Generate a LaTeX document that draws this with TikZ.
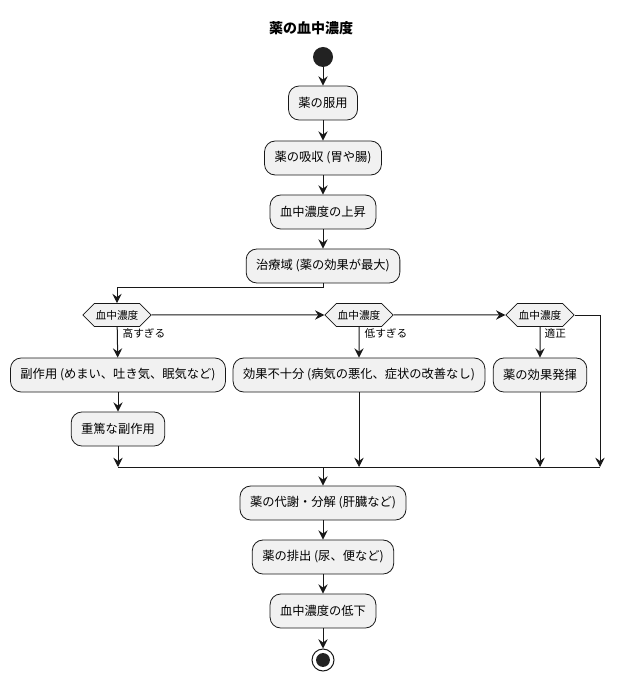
\documentclass[tikz,border=0pt]{standalone}
\usepackage{fontspec}
\setmainfont{Noto Sans CJK JP}
\usetikzlibrary{arrows.meta,shapes.symbols}
\definecolor{actfill}{HTML}{F1F1F1}
\definecolor{actline}{HTML}{181818}
\definecolor{dotfill}{HTML}{222222}
\begin{document}
\begin{tikzpicture}[
    x=0.75pt,y=-0.75pt,
    every node/.style={font=\fontsize{9.2}{11}\selectfont},
    act/.style={draw=actline, fill=actfill, rounded corners=8pt, line width=0.6pt, minimum height=25.5pt, inner xsep=7.5pt},
    test/.style={draw=actline, fill=actfill, line width=0.6pt, shape=signal, signal to=west and east, signal pointer angle=90, minimum height=17.25pt, inner xsep=1pt, font=\fontsize{8}{9}\selectfont},
    guard/.style={font=\fontsize{8}{9}\selectfont, anchor=west, inner sep=1pt},
    flow/.style={draw=actline, line width=0.75pt, -{Stealth[length=7pt,width=7pt,inset=2.5pt]}},
    wire/.style={draw=actline, line width=0.75pt}
]
    \useasboundingbox (0,0) rectangle (624,680);
    \node[font=\fontsize{10.5}{12}\selectfont\bfseries] (title) at (311,28) {薬の血中濃度};
    \node[circle, fill=dotfill, minimum size=15pt, inner sep=0pt] (start) at (323,57) {};

    % main flow
    \node[act] (take)   at (323,103) {薬の服用};
    \node[act] (absorb) at (323,158) {薬の吸収 (胃や腸)};
    \node[act] (rise)   at (323,212) {血中濃度の上昇};
    \node[act] (peak)   at (323,266) {治療域 (薬の効果が最大)};

    % tests
    \node[test] (high) at (117,315) {血中濃度};
    \node[test] (low)  at (359,315) {血中濃度};
    \node[test] (ok)   at (540,315) {血中濃度};
    \node[guard] (ghigh) at (121,333) {高すぎる};
    \node[guard] (glow)  at (363,333) {低すぎる};
    \node[guard] (gok)   at (543,333) {適正};

    \node[act] (side)   at (118,375) {副作用 (めまい、吐き気、眠気など)};
    \node[act] (severe) at (118,429) {重篤な副作用};
    \node[act] (weak)   at (359,375) {効果不十分 (病気の悪化、症状の改善なし)};
    \node[act] (works)  at (540,375) {薬の効果発揮};

    % after merge
    \node[act] (meta)  at (323,503) {薬の代謝・分解 (肝臓など)};
    \node[act] (excr)  at (323,557) {薬の排出 (尿、便など)};
    \node[act] (fall)  at (323,611) {血中濃度の低下};
    \node[circle, draw=actline, line width=0.75pt, fill=white, minimum size=16.5pt, inner sep=0pt] (stop) at (323,660) {};
    \fill[dotfill] (stop) circle (5.2pt);

    \coordinate (split) at (323,288);
    \coordinate (m1) at (118,467);
    \coordinate (m2) at (359,467);
    \coordinate (m3) at (540,467);
    \coordinate (m4) at (600,467);
    \coordinate (m0) at (323,467);

    \draw[flow] (start) -- (take);
    \draw[flow] (take) -- (absorb);
    \draw[flow] (absorb) -- (rise);
    \draw[flow] (rise) -- (peak);
    \draw[flow] (peak) -- (split) -| (high);
    \draw[flow] (high) -- (low);
    \draw[flow] (low) -- (ok);
    \draw[flow] (ok.east) -| (m4);
    \draw[flow] (high) -- (side);
    \draw[flow] (side) -- (severe);
    \draw[flow] (severe) -- (m1);
    \draw[flow] (low) -- (weak);
    \draw[flow] (weak) -- (m2);
    \draw[flow] (ok) -- (works);
    \draw[flow] (works) -- (m3);
    \draw[wire] (m1) -- (m4);
    \draw[flow] (m0) -- (meta);
    \draw[flow] (meta) -- (excr);
    \draw[flow] (excr) -- (fall);
    \draw[flow] (fall) -- (stop);
\end{tikzpicture}
\end{document}
